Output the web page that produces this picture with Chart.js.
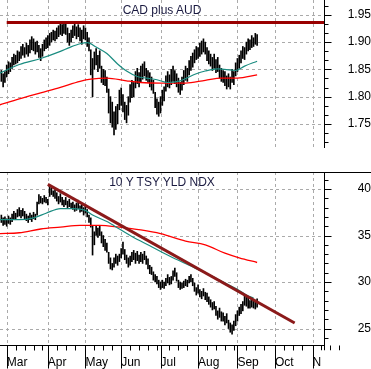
<!DOCTYPE html>
<html>
<head>
<meta charset="utf-8">
<script src="https://cdn.jsdelivr.net/npm/chart.js"></script>
<style>
  html, body { margin: 0; padding: 0; background: #fff; }
  #wrap { position: relative; width: 371px; height: 369px; overflow: hidden; }
  canvas { position: absolute; left: 0; }
  #topChart { top: 0; }
  #bottomChart { top: 172px; }
  .title { position: absolute; left: 0; width: 324px; text-align: center;
           font: 12px Arial, "Liberation Sans", sans-serif; color: #1a1a40; }
</style>
</head>
<body>
<div id="wrap">
  <canvas id="topChart" width="371" height="172"></canvas>
  <canvas id="bottomChart" width="371" height="197"></canvas>
  <div class="title" style="top:3px">CAD plus AUD</div>
  <div class="title" style="top:175px">10 Y TSY YLD NDX</div>
</div>
<script>
// x axis is in trading days, day 0 = 1 Mar
const firstDay = -3;
const monthNames = ['Mar', 'Apr', 'May', 'Jun', 'Jul', 'Aug', 'Sep', 'Oct', 'Nov'];
const monthStarts = [0, 23, 44, 64, 86, 107, 129, 150, 171];
const xMin = -3.75, xMax = 177.4;

const cadTicks = [1.75, 1.80, 1.85, 1.90, 1.95];
const tsyTicks = [25, 30, 35, 40];

// CAD plus AUD daily bars
const cadHigh = [
  1.848, 1.842, 1.846, 1.858, 1.864, 1.862, 1.872, 1.878, 1.876, 1.884,
  1.882, 1.892, 1.896, 1.890, 1.898, 1.894, 1.904, 1.910, 1.906, 1.900,
  1.902, 1.894, 1.888, 1.896, 1.904, 1.908, 1.912, 1.916, 1.918, 1.922,
  1.920, 1.926, 1.930, 1.934, 1.932, 1.936, 1.934, 1.926, 1.916, 1.922,
  1.930, 1.934, 1.928, 1.932, 1.926, 1.922, 1.930, 1.926, 1.918, 1.908,
  1.886, 1.870, 1.882, 1.888, 1.876, 1.884, 1.856, 1.850, 1.848, 1.836,
  1.814, 1.800, 1.790, 1.772, 1.782, 1.786, 1.812, 1.816, 1.804, 1.790,
  1.784, 1.800, 1.822, 1.830, 1.826, 1.846, 1.852, 1.844, 1.856, 1.860,
  1.864, 1.852, 1.848, 1.844, 1.836, 1.830, 1.808, 1.796, 1.790, 1.800,
  1.812, 1.818, 1.838, 1.846, 1.840, 1.850, 1.856, 1.848, 1.842, 1.834,
  1.826, 1.836, 1.848, 1.856, 1.852, 1.866, 1.874, 1.880, 1.886, 1.892,
  1.890, 1.898, 1.902, 1.906, 1.900, 1.890, 1.884, 1.878, 1.872, 1.878,
  1.868, 1.872, 1.858, 1.852, 1.848, 1.846, 1.838, 1.842, 1.836, 1.850,
  1.846, 1.862, 1.870, 1.876, 1.884, 1.892, 1.890, 1.900, 1.906, 1.904,
  1.912, 1.908, 1.916, 1.914
];
const cadLow = [
  1.828, 1.818, 1.826, 1.836, 1.842, 1.846, 1.852, 1.858, 1.860, 1.862,
  1.866, 1.870, 1.876, 1.872, 1.878, 1.874, 1.880, 1.886, 1.884, 1.878,
  1.882, 1.872, 1.866, 1.874, 1.884, 1.888, 1.890, 1.894, 1.900, 1.904,
  1.902, 1.906, 1.910, 1.914, 1.912, 1.916, 1.914, 1.900, 1.894, 1.900,
  1.908, 1.912, 1.906, 1.910, 1.902, 1.896, 1.906, 1.904, 1.892, 1.884,
  1.840, 1.800, 1.850, 1.858, 1.846, 1.852, 1.826, 1.822, 1.820, 1.808,
  1.770, 1.752, 1.744, 1.730, 1.740, 1.750, 1.776, 1.784, 1.772, 1.758,
  1.752, 1.766, 1.790, 1.798, 1.800, 1.816, 1.824, 1.818, 1.826, 1.832,
  1.838, 1.830, 1.826, 1.818, 1.812, 1.806, 1.780, 1.768, 1.764, 1.770,
  1.784, 1.792, 1.810, 1.818, 1.816, 1.822, 1.828, 1.824, 1.818, 1.808,
  1.804, 1.812, 1.822, 1.830, 1.828, 1.840, 1.848, 1.854, 1.862, 1.868,
  1.870, 1.874, 1.878, 1.882, 1.878, 1.866, 1.860, 1.856, 1.848, 1.852,
  1.844, 1.846, 1.834, 1.828, 1.826, 1.820, 1.814, 1.818, 1.814, 1.826,
  1.822, 1.838, 1.846, 1.852, 1.862, 1.870, 1.868, 1.878, 1.884, 1.886,
  1.890, 1.892, 1.896, 1.894
];
const cadFastDays = [-4, 7, 19, 30, 35, 41, 45, 50, 56, 62, 67, 73, 78, 84, 90, 97, 100, 106, 111, 118, 128, 133, 140];
const cadFastMa = [1.843, 1.859, 1.870, 1.883, 1.890, 1.897, 1.899, 1.891, 1.879, 1.860, 1.847, 1.837, 1.834,
  1.831, 1.826, 1.829, 1.833, 1.842, 1.847, 1.851, 1.848, 1.856, 1.865];
const cadSlowDays = [-4, 7, 19, 30, 41, 47, 56, 67, 75, 86, 100, 111, 120, 129, 140];
const cadSlowMa = [1.785, 1.796, 1.807, 1.817, 1.828, 1.832, 1.834, 1.829, 1.826, 1.825, 1.825, 1.830, 1.834, 1.834, 1.840];
const cadLineDays = [0, xMax];
const cadLineLevel = [1.936, 1.936];

// 10 Y TSY YLD NDX daily bars
const tsyHigh = [
  37.2, 36.9, 37.0, 36.8, 37.1, 36.9, 37.3, 37.6, 37.4, 37.8,
  38.0, 37.7, 37.9, 37.6, 37.3, 37.1, 37.4, 37.2, 37.5, 37.3,
  38.6, 39.4, 39.2, 39.0, 39.3, 39.1, 38.9, 40.4, 40.1, 39.8,
  39.9, 39.6, 39.2, 39.5, 39.1, 38.8, 39.1, 38.7, 38.9, 38.5,
  38.6, 38.3, 38.5, 38.8, 38.2, 38.4, 38.0, 38.3, 37.8, 37.2,
  36.9, 36.1, 35.4, 36.1, 35.8, 36.0, 35.4, 35.0, 34.6, 34.2,
  33.2, 32.6, 32.0, 32.6, 33.0, 32.8, 33.0, 33.6, 34.3, 33.5,
  32.9, 32.6, 32.8, 33.2, 33.4, 33.1, 33.3, 32.9, 33.2, 33.0,
  33.3, 32.8, 32.5, 31.8, 31.6, 31.1, 30.8, 30.6, 30.2, 30.0,
  30.2, 30.0, 30.4, 30.8, 30.5, 30.6, 31.2, 31.5, 31.0, 30.2,
  30.0, 29.9, 30.1, 30.3, 30.2, 30.6, 30.8, 30.4, 29.9, 29.4,
  29.7, 29.2, 29.0, 29.3, 28.9, 28.8, 28.4, 28.1, 27.8, 27.9,
  27.4, 26.9, 27.2, 26.8, 26.7, 26.3, 26.6, 25.9, 25.6, 25.4,
  25.8, 26.5, 26.9, 27.3, 27.6, 27.9, 28.6, 28.4, 28.3, 28.0,
  28.3, 28.1, 27.9, 28.2
];
const tsyLow = [
  36.4, 36.1, 36.2, 36.0, 36.3, 36.2, 36.5, 36.8, 36.7, 37.0,
  37.1, 36.9, 37.1, 36.8, 36.6, 36.4, 36.7, 36.5, 36.8, 36.7,
  37.2, 38.4, 38.5, 38.4, 38.6, 38.5, 38.3, 39.2, 39.4, 39.2,
  39.0, 38.7, 38.4, 38.6, 38.3, 38.1, 38.3, 38.0, 38.1, 37.9,
  37.8, 37.6, 37.7, 37.9, 37.5, 37.6, 37.2, 37.4, 37.0, 36.4,
  35.9, 32.9, 34.0, 35.0, 34.8, 35.0, 34.2, 33.8, 33.4, 33.2,
  32.0, 31.4, 31.3, 31.6, 32.0, 31.8, 32.2, 32.6, 33.0, 32.4,
  32.0, 31.6, 31.8, 32.2, 32.4, 32.0, 32.3, 32.0, 32.2, 32.0,
  32.4, 31.9, 31.4, 30.9, 30.8, 30.2, 30.0, 29.8, 29.4, 29.2,
  29.4, 29.3, 29.6, 29.9, 29.7, 29.8, 30.2, 30.6, 30.1, 29.4,
  29.2, 29.3, 29.4, 29.6, 29.5, 29.9, 30.0, 29.6, 29.0, 28.6,
  28.8, 28.4, 28.2, 28.5, 28.1, 27.9, 27.6, 27.3, 27.0, 27.1,
  26.4, 26.0, 26.2, 25.8, 25.8, 25.4, 25.6, 25.0, 24.6, 24.4,
  24.8, 25.3, 25.8, 26.4, 26.6, 26.9, 27.5, 27.4, 27.2, 27.2,
  27.3, 27.2, 27.1, 27.3
];
const tsyFastDays = [-4, 7, 15, 22, 30, 37, 44, 48, 56, 63, 70, 80, 91, 102, 113, 124, 130, 134, 138];
const tsyFastMa = [36.7, 36.7, 36.9, 37.4, 37.9, 37.9, 37.7, 37.2, 36.5, 35.7, 34.9, 33.9, 32.8, 31.8, 30.8, 29.7, 29.1, 28.6, 28.3];
const tsySlowDays = [-4, 7, 19, 30, 41, 52, 63, 75, 86, 100, 111, 122, 130, 140];
const tsySlowMa = [35.2, 35.3, 35.7, 35.9, 36.1, 36.1, 35.9, 35.6, 35.2, 34.4, 34.0, 33.1, 32.6, 32.1];
const tsyTrendDays = [23, 161];
const tsyTrendLevel = [40.5, 25.6];

const FONT = 'Arial, "Liberation Sans", sans-serif';

function pts(days, vals) {
  return days.map((d, i) => ({ x: d, y: vals[i] }));
}
function bars(lows, highs) {
  return lows.map((lo, i) => ({ x: firstDay + i, y: [lo, highs[i]] }));
}

// gridlines, axis lines and tick marks
const axisDecor = {
  id: 'axisDecor',
  beforeDatasetsDraw(chart, args, o) {
    const { ctx, chartArea: a, scales: { x, y } } = chart;
    ctx.save();
    ctx.strokeStyle = '#aaaaaa';
    ctx.lineWidth = 1;
    ctx.setLineDash([3, 3]);
    ctx.beginPath();
    monthStarts.forEach(m => {
      const px = Math.round(x.getPixelForValue(m)) + 0.5;
      ctx.moveTo(px, a.top);
      ctx.lineTo(px, a.bottom);
    });
    o.ticks.forEach(v => {
      const py = Math.round(y.getPixelForValue(v)) + 0.5;
      ctx.moveTo(a.left, py);
      ctx.lineTo(a.right, py);
    });
    ctx.stroke();
    ctx.restore();
  },
  afterDraw(chart, args, o) {
    const { ctx, chartArea: a, scales: { x, y } } = chart;
    const ax = Math.round(a.right) + 0.5;
    const by = Math.round(a.bottom) + 0.5;
    ctx.save();
    ctx.strokeStyle = '#000';
    ctx.lineWidth = 1;
    ctx.beginPath();
    ctx.moveTo(ax, 0);
    ctx.lineTo(ax, o.xAxis ? by + 5 : a.bottom);
    const k0 = Math.ceil(y.min / o.minor), k1 = Math.floor(y.max / o.minor);
    for (let k = k0; k <= k1; k++) {
      const v = k * o.minor;
      const major = o.ticks.some(t => Math.abs(t - v) < o.minor / 10);
      const py = Math.round(y.getPixelForValue(v)) + 0.5;
      ctx.moveTo(ax, py);
      ctx.lineTo(ax + (major ? 7 : 4), py);
    }
    if (o.xAxis) {
      ctx.moveTo(0, 0.5);
      ctx.lineTo(chart.width, 0.5);
      ctx.moveTo(0, by);
      ctx.lineTo(ax, by);
      monthStarts.forEach((m, i) => {
        const px = Math.round(x.getPixelForValue(m)) + 0.5;
        ctx.moveTo(px, by);
        ctx.lineTo(px, by + 23);
        const next = monthStarts[i + 1] || m + 21;
        for (let d = m + 5; d < next - 1; d += 5) {
          const qx = Math.round(x.getPixelForValue(d)) + 0.5;
          ctx.moveTo(qx, by);
          ctx.lineTo(qx, by + 5);
        }
      });
    }
    ctx.stroke();
    if (o.xAxis) {
      // last month label is cut at the plot edge
      ctx.fillStyle = '#fff';
      ctx.fillRect(a.right - 3, by + 5, chart.width, chart.height);
    }
    ctx.restore();
  }
};

function makeChart(id, datasets, yRange, ticks, minor, fmt, showX, labelPad) {
  return new Chart(document.getElementById(id), {
    type: 'bar',
    data: { datasets },
    options: {
      responsive: false,
      animation: false,
      events: [],
      layout: { padding: 0 },
      plugins: {
        legend: { display: false },
        tooltip: { enabled: false },
        axisDecor: { ticks, minor, xAxis: showX }
      },
      scales: {
        x: {
          type: 'linear', min: xMin, max: xMax, offset: false, bounds: 'data',
          display: showX,
          grid: { display: false, drawTicks: false },
          border: { display: false },
          afterBuildTicks: s => { s.ticks = monthStarts.map(v => ({ value: v })); },
          afterFit: s => { s.height = 24; s.paddingLeft = 0; s.paddingRight = 0; },
          ticks: {
            autoSkip: false, maxRotation: 0, align: 'start', padding: 10,
            color: '#000', font: { family: FONT, size: 12 },
            callback: (v, i) => monthNames[i]
          }
        },
        y: {
          type: 'linear', position: 'right', min: yRange[0], max: yRange[1], bounds: 'data',
          grid: { display: false, drawTicks: false },
          border: { display: false },
          afterBuildTicks: s => { s.ticks = ticks.map(v => ({ value: v })); },
          afterFit: s => { s.width = 47; s.paddingTop = 0; s.paddingBottom = 0; },
          ticks: {
            autoSkip: false, crossAlign: 'far', padding: labelPad,
            color: '#000', font: { family: FONT, size: 12 },
            callback: fmt
          }
        }
      }
    },
    plugins: [axisDecor]
  });
}

makeChart('topChart', [
  { type: 'line', data: pts(cadLineDays, cadLineLevel), borderColor: '#990000', borderWidth: 3, pointRadius: 0, order: 0 },
  { type: 'line', data: pts(cadFastDays, cadFastMa), borderColor: '#1a8c80', borderWidth: 1.2, pointRadius: 0, cubicInterpolationMode: 'monotone', order: 1 },
  { type: 'line', data: pts(cadSlowDays, cadSlowMa), borderColor: '#ff0000', borderWidth: 1.3, pointRadius: 0, cubicInterpolationMode: 'monotone', order: 2 },
  { type: 'bar', data: bars(cadLow, cadHigh), backgroundColor: '#000', borderWidth: 0, barThickness: 1, order: 3 }
], [1.7059, 1.9772], cadTicks, 0.05 / 3, v => v.toFixed(2), false, 20);

makeChart('bottomChart', [
  { type: 'line', data: pts(tsyTrendDays, tsyTrendLevel), borderColor: '#8b1a1a', borderWidth: 3, pointRadius: 0, order: 0 },
  { type: 'line', data: pts(tsyFastDays, tsyFastMa), borderColor: '#1a8c80', borderWidth: 1.2, pointRadius: 0, cubicInterpolationMode: 'monotone', order: 1 },
  { type: 'line', data: pts(tsySlowDays, tsySlowMa), borderColor: '#ff0000', borderWidth: 1.3, pointRadius: 0, cubicInterpolationMode: 'monotone', order: 2 },
  { type: 'bar', data: bars(tsyLow, tsyHigh), backgroundColor: '#000', borderWidth: 0, barThickness: 1, order: 3 }
], [23.23, 41.83], tsyTicks, 1, v => String(v), true, 30);
</script>
</body>
</html>
